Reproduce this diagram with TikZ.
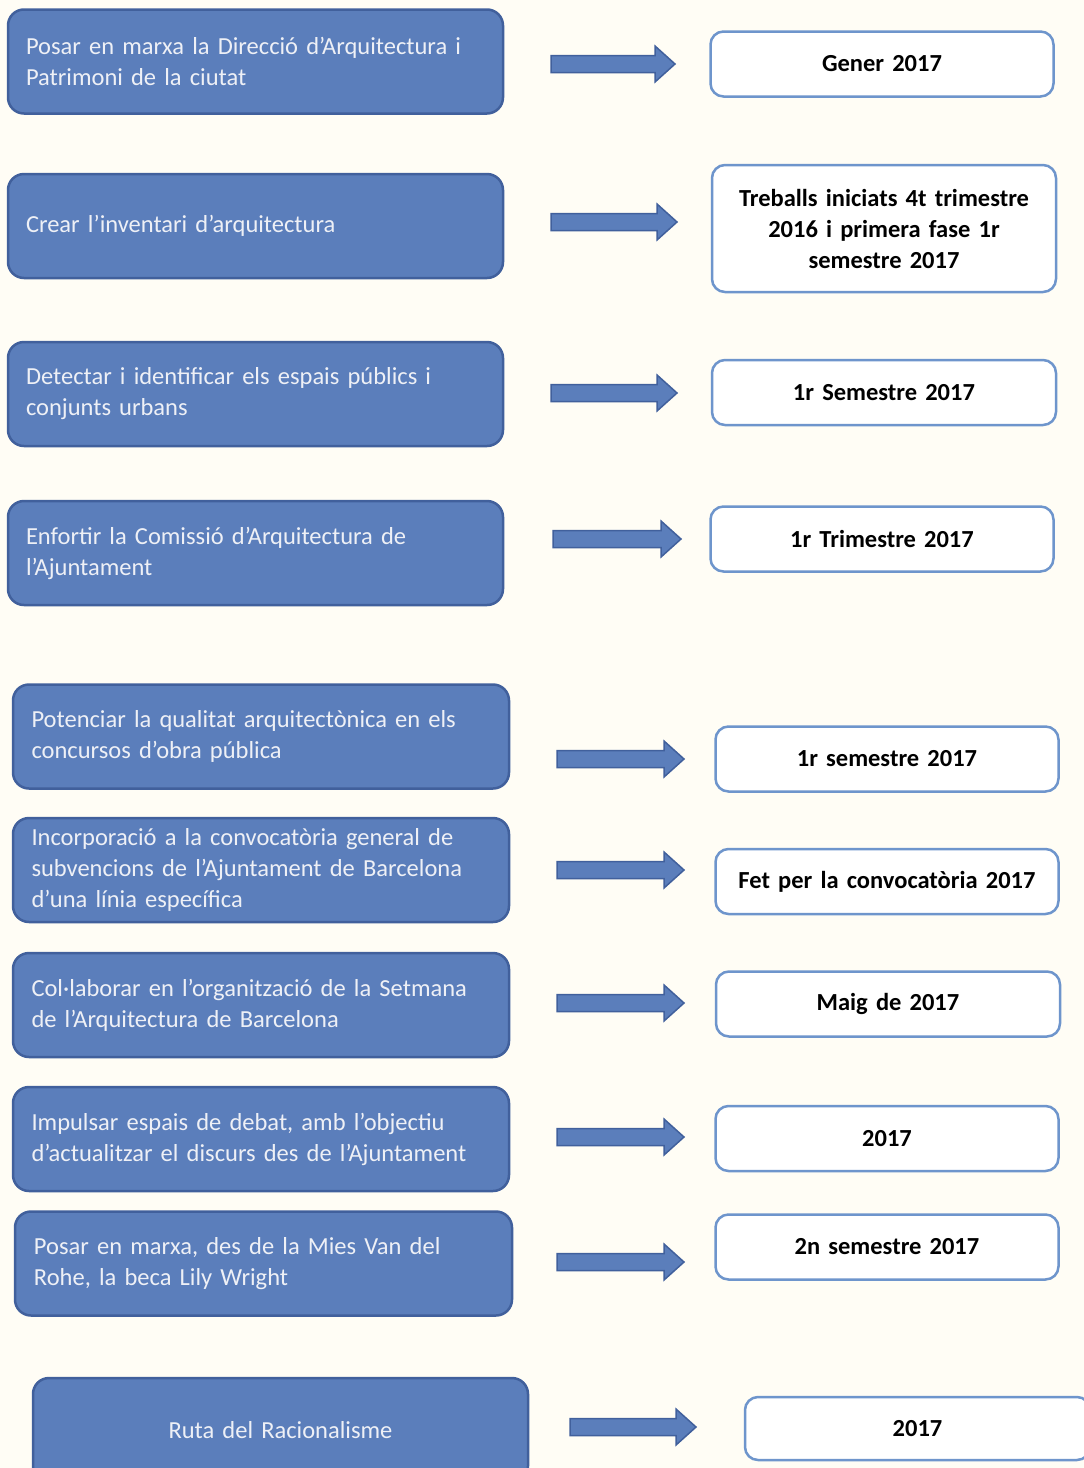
\documentclass[tikz,border=0pt]{standalone}
\usepackage{fontspec}
\setmainfont{Carlito}
\definecolor{bgcol}{HTML}{FFFDF5}
\definecolor{bluefill}{HTML}{5B7EBB}
\definecolor{blueedge}{HTML}{41609C}
\definecolor{lightedge}{HTML}{6E95CC}
\definecolor{whitetext}{HTML}{EEF0F6}
\tikzset{
  task/.style={rectangle, rounded corners=16pt, fill=bluefill, draw=blueedge, line width=2.5pt,
    minimum width=495pt, minimum height=104pt, inner xsep=18pt, inner ysep=4pt,
    text width=459pt, align=left, text=whitetext, font=\fontsize{24.5}{31}\selectfont},
  taskc/.style={task, align=center},
  when/.style={rectangle, rounded corners=13pt, fill=white, draw=lightedge, line width=2.5pt,
    minimum width=343pt, minimum height=65pt, inner xsep=6pt, inner ysep=4pt,
    text width=331pt, align=center, text=black, font=\fontsize{24.5}{31}\selectfont\bfseries},
  barrowstyle/.style={fill=bluefill, draw=blueedge, line width=1.5pt, line join=miter}
}
\newcommand{\blockarrow}[4]{%
  \coordinate (#1) at (#2,#3);
  \filldraw[barrowstyle] (#1) ++(0,-8.5) -- ++(#4-20,0) -- ++(0,-9.5) -- ++(20,18) -- ++(-20,18) -- ++(0,-9.5) -- ++(-#4+20,0) -- cycle;
}
\begin{document}
\begin{tikzpicture}[x=1pt,y=-1pt]
\fill[bgcol] (0,0) rectangle (1084,1468);
\useasboundingbox (0,0) rectangle (1084,1468);

% left boxes
\node[task] (t1) at (255.5,61.5) {Posar en marxa la Direcció d’Arquitectura i\\Patrimoni de la ciutat};
\node[task] (t2) at (255.5,226) {Crear l’inventari d’arquitectura};
\node[task] (t3) at (255.5,394) {Detectar i identificar els espais públics i\\conjunts urbans};
\node[task] (t4) at (255.5,553) {Enfortir la Comissió d’Arquitectura de\\l’Ajuntament};
\node[task, minimum width=496pt] (t5) at (261,736.5) {Potenciar la qualitat arquitectònica en els\\concursos d’obra pública};
\node[task, minimum width=496pt] (t6) at (261,870) {Incorporació a la convocatòria general de\\subvencions de l’Ajuntament de Barcelona\\d’una línia específica};
\node[task, minimum width=496pt] (t7) at (261,1005) {Col·laborar en l’organització de la Setmana\\de l’Arquitectura de Barcelona};
\node[task, minimum width=496pt] (t8) at (261,1139) {Impulsar espais de debat, amb l’objectiu\\d’actualitzar el discurs des de l’Ajuntament};
\node[task, minimum width=497pt] (t9) at (263.5,1263.5) {Posar en marxa, des de la Mies Van del\\Rohe, la beca Lily Wright};
\node[taskc] (t10) at (280.5,1430) {Ruta del Racionalisme};

% right boxes
\node[when] (w1) at (882,64) {Gener 2017};
\node[when, minimum width=344pt, minimum height=127pt] (w2) at (884,228.5) {Treballs iniciats 4t trimestre\\2016 i primera fase 1r\\semestre 2017};
\node[when, minimum width=344pt] (w3) at (884,392.5) {1r Semestre 2017};
\node[when] (w4) at (882,539) {1r Trimestre 2017};
\node[when, minimum width=342pt] (w5) at (887,759) {1r semestre 2017};
\node[when, minimum width=342pt] (w6) at (887,881.5) {Fet per la convocatòria 2017};
\node[when, minimum width=344pt] (w7) at (888,1004) {Maig de 2017};
\node[when, minimum width=342pt] (w8) at (887,1138.5) {2017};
\node[when, minimum width=342pt] (w9) at (887,1247) {2n semestre 2017};
\node[when, minimum width=345pt, minimum height=63pt] (w10) at (917.5,1428.5) {2017};

% block arrows
\blockarrow{a1}{551}{64}{124}
\blockarrow{a2}{551}{222}{126}
\blockarrow{a3}{551}{393}{126}
\blockarrow{a4}{553}{539}{128}
\blockarrow{a5}{557}{759}{127}
\blockarrow{a6}{557}{870}{127}
\blockarrow{a7}{557}{1003}{127}
\blockarrow{a8}{557}{1137}{127}
\blockarrow{a9}{557}{1262}{127}
\blockarrow{a10}{570}{1427}{126}
\end{tikzpicture}
\end{document}
